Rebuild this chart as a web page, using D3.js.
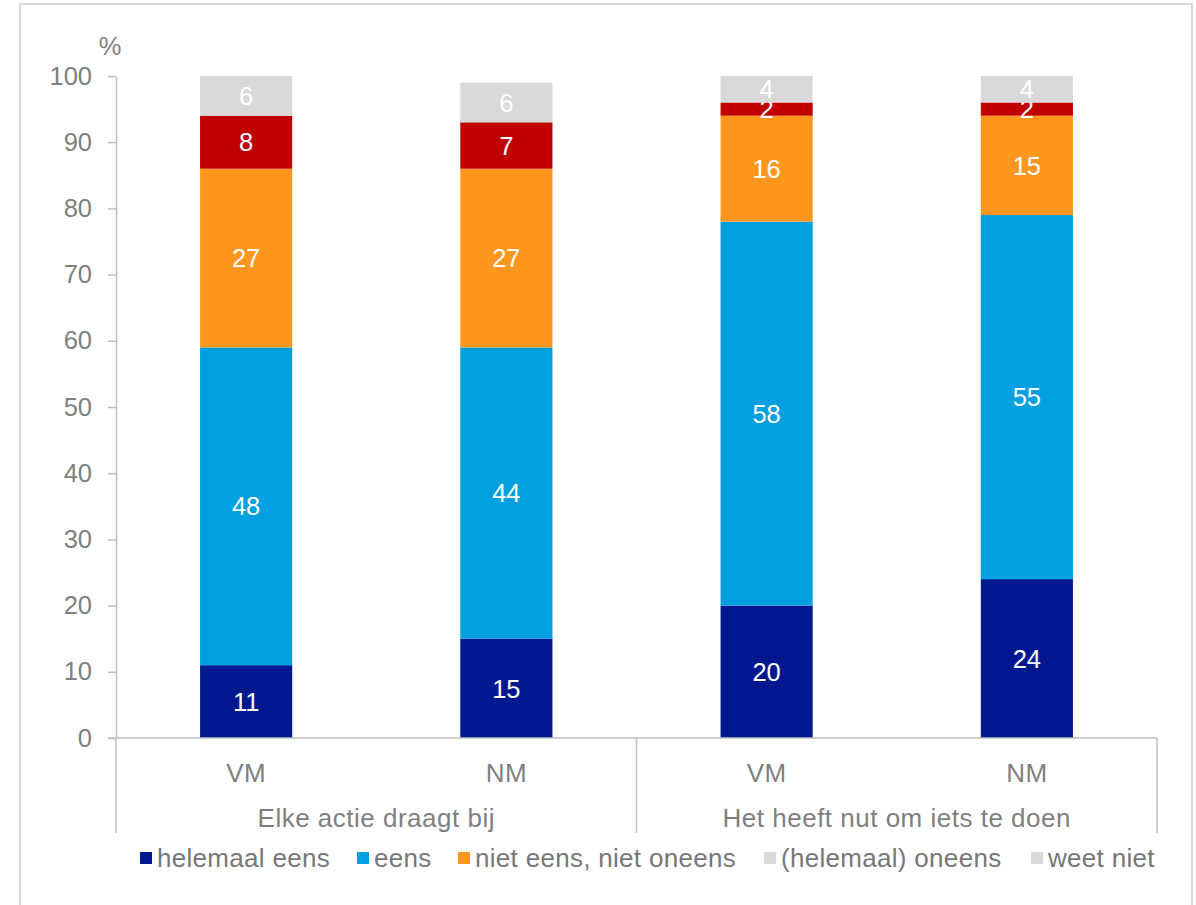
<!DOCTYPE html>
<html>
<head>
<meta charset="utf-8">
<script src="https://cdn.jsdelivr.net/npm/d3@7"></script>
<style>
  html, body { margin: 0; padding: 0; background: #fff; }
  svg { display: block; font-family: "Liberation Sans", Arial, sans-serif; }
</style>
</head>
<body>
<svg id="chart" width="1196" height="905"></svg>
<script>
// Statements and measurement moments
const groups = ["Elke actie draagt bij", "Het heeft nut om iets te doen"];
const moments = ["VM", "NM"];

// Series names (stack order, bottom to top)
const seriesNames = ["helemaal eens", "eens", "niet eens, niet oneens", "(helemaal) oneens", "weet niet"];
const seriesColors = ["#00188f", "#009fdf", "#ff961e", "#c00000", "#d9d9d9"];
const legendColors = ["#00188f", "#009fdf", "#ff961e", "#d9d9d9", "#d9d9d9"];

// Percentages per series, one per bar: Elke VM, Elke NM, Het VM, Het NM
const helemaalEens = [11, 15, 20, 24];
const eens = [48, 44, 58, 55];
const nietEensNietOneens = [27, 27, 16, 15];
const oneens = [8, 7, 2, 2];
const weetNiet = [6, 6, 4, 4];

const yTicks = [0, 10, 20, 30, 40, 50, 60, 70, 80, 90, 100];

const seriesValues = [helemaalEens, eens, nietEensNietOneens, oneens, weetNiet];
const bars = [];
groups.forEach((g, gi) => moments.forEach((m, mi) => {
  const i = gi * moments.length + mi;
  const row = { key: g + "|" + m, group: g, moment: m };
  seriesNames.forEach((s, si) => row[s] = seriesValues[si][i]);
  bars.push(row);
}));

const svg = d3.select("#chart");

// Outer frame
svg.append("rect")
  .attr("x", 20).attr("y", 4)
  .attr("width", 1172).attr("height", 920)
  .attr("fill", "none").attr("stroke", "#d9d9d9").attr("stroke-width", 2);

const plot = { left: 116, right: 1157, top: 76, bottom: 738 };

const x = d3.scaleBand()
  .domain(bars.map(d => d.key))
  .range([plot.left, plot.right])
  .paddingInner(0.646).paddingOuter(0.323);

const xGroup = d3.scaleBand()
  .domain(groups)
  .range([plot.left, plot.right]);

const y = d3.scaleLinear().domain([0, 100]).range([plot.bottom, plot.top]);

const axisColor = "#bfbfbf";
const textColor = "#7f7f7f";
const fontSize = "25.5px";
const labelSize = "26px";
const spacing = "0.5px";

// Y axis
const yAxis = svg.append("g")
  .attr("transform", `translate(${plot.left},0)`)
  .call(d3.axisLeft(y).tickValues(yTicks).tickSize(8).tickPadding(16).tickSizeOuter(0));
yAxis.select(".domain").attr("stroke", axisColor).attr("stroke-width", 1.5);
yAxis.selectAll(".tick line").attr("stroke", axisColor).attr("stroke-width", 1.5);
yAxis.selectAll(".tick text")
  .attr("fill", textColor).style("font-size", fontSize)
  .style("font-family", "Liberation Sans, Arial, sans-serif");

svg.append("text")
  .attr("x", 110).attr("y", 55)
  .attr("text-anchor", "middle")
  .attr("fill", textColor).style("font-size", fontSize)
  .text("%");

// Stacked bars
const stack = d3.stack().keys(seriesNames);
const layers = stack(bars);

const layerG = svg.append("g").selectAll("g")
  .data(layers).join("g")
  .attr("fill", (d, i) => seriesColors[i]);

layerG.selectAll("rect")
  .data(d => d)
  .join("rect")
  .attr("x", d => x(d.data.key))
  .attr("width", x.bandwidth())
  .attr("y", d => y(d[1]))
  .attr("height", d => y(d[0]) - y(d[1]));

// Value labels
layerG.selectAll("text")
  .data(d => d.map(v => Object.assign(v, { series: d.key })))
  .join("text")
  .attr("x", d => x(d.data.key) + x.bandwidth() / 2)
  .attr("y", d => y((d[0] + d[1]) / 2))
  .attr("dy", "0.36em")
  .attr("text-anchor", "middle")
  .attr("fill", "#ffffff")
  .style("font-size", fontSize)
  .text(d => d.data[d.series]);

// X axis baseline and group separators
svg.append("line")
  .attr("x1", plot.left - 8).attr("x2", plot.right)
  .attr("y1", plot.bottom).attr("y2", plot.bottom)
  .attr("stroke", axisColor).attr("stroke-width", 1.5);

const sepX = [plot.left, ...groups.map(g => xGroup(g) + xGroup.bandwidth())];
svg.append("g").selectAll("line")
  .data(sepX).join("line")
  .attr("x1", d => d).attr("x2", d => d)
  .attr("y1", plot.bottom).attr("y2", 833)
  .attr("stroke", axisColor).attr("stroke-width", 1.5);

// Moment labels
svg.append("g").selectAll("text")
  .data(bars).join("text")
  .attr("x", d => x(d.key) + x.bandwidth() / 2)
  .attr("y", 782)
  .attr("text-anchor", "middle")
  .attr("fill", textColor).style("font-size", labelSize)
  .style("letter-spacing", spacing)
  .text(d => d.moment);

// Group labels
svg.append("g").selectAll("text")
  .data(groups).join("text")
  .attr("x", d => xGroup(d) + xGroup.bandwidth() / 2)
  .attr("y", 827)
  .attr("text-anchor", "middle")
  .attr("fill", textColor).style("font-size", labelSize)
  .style("letter-spacing", spacing)
  .text(d => d);

// Legend
const legendX = [140, 357, 458, 764, 1031];
const legend = svg.append("g").selectAll("g")
  .data(seriesNames).join("g")
  .attr("transform", (d, i) => `translate(${legendX[i]},852)`);
legend.append("rect")
  .attr("width", 12).attr("height", 12)
  .attr("fill", (d, i) => legendColors[i]);
legend.append("text")
  .attr("x", 17).attr("y", 15)
  .attr("fill", "#777777").style("font-size", labelSize)
  .style("letter-spacing", "0.3px")
  .text(d => d);
</script>
</body>
</html>
